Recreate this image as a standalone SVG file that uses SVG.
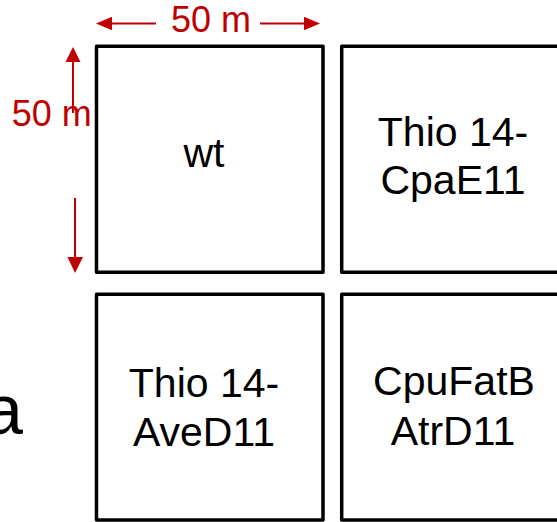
<svg xmlns="http://www.w3.org/2000/svg" width="557" height="522" viewBox="0 0 557 522">
<style>
.box{fill:#fff;stroke:#000;stroke-width:3.5;stroke-linejoin:round}
.lbl{font-family:"Liberation Sans",Arial,sans-serif;font-size:41px;fill:#000;text-anchor:middle}
.dim{font-family:"Liberation Sans",Arial,sans-serif;font-size:36px;fill:#C00000}
.dl{stroke:#C00000;stroke-width:2;fill:none}
.ah{fill:#C00000}
</style>
<rect width="557" height="522" fill="#fff"/>
<text x="-16" y="434" font-family="Liberation Sans, Arial, sans-serif" font-size="70" fill="#000">a</text>
<g id="node-wt">
<rect class="box" x="96.5" y="46.3" width="226.5" height="226"/>
<text class="lbl" x="204" y="167">wt</text>
</g>
<g id="node-cpae11">
<rect class="box" x="341.7" y="46.3" width="226.5" height="226"/>
<text class="lbl" x="453" y="146">Thio 14-</text>
<text class="lbl" x="453" y="194">CpaE11</text>
</g>
<g id="node-aved11">
<rect class="box" x="96.5" y="294.3" width="226.5" height="225.7"/>
<text class="lbl" x="204" y="396.5">Thio 14-</text>
<text class="lbl" x="204" y="446">AveD11</text>
</g>
<g id="node-atrd11">
<rect class="box" x="341.7" y="294.3" width="226.5" height="225.7"/>
<text class="lbl" x="454" y="395">CpuFatB</text>
<text class="lbl" x="453" y="445">AtrD11</text>
</g>
<g id="connectors">
<line class="dl" x1="111" y1="23.5" x2="156" y2="23.5"/>
<polygon class="ah" points="96,23.5 112,16.8 112,30.2"/>
<line class="dl" x1="260" y1="23.5" x2="305" y2="23.5"/>
<polygon class="ah" points="320,23.5 304,16.8 304,30.2"/>
<text class="dim" x="171" y="32.3">50 m</text>
<line class="dl" x1="73" y1="61" x2="73" y2="113"/>
<polygon class="ah" points="73,47 65.5,62 80.5,62"/>
<line class="dl" x1="75" y1="198" x2="75" y2="258"/>
<polygon class="ah" points="75,273 67.5,257 83,257"/>
<text class="dim" x="11.8" y="126">50 m</text>
</g>
</svg>
